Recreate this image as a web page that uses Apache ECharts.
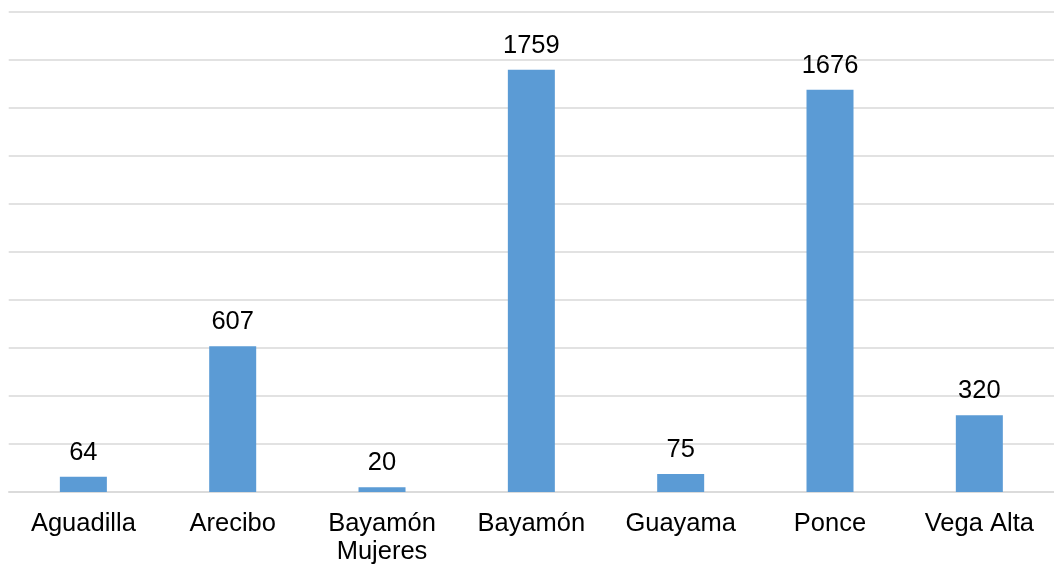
<!DOCTYPE html>
<html><head><meta charset="utf-8">
<script src="https://cdn.jsdelivr.net/npm/echarts@6/dist/echarts.min.js"></script>
<style>html,body{margin:0;padding:0;background:#fff}#c{width:1054px;height:569px}</style>
</head><body><div id="c"></div>
<script>
const categories = ['Aguadilla','Arecibo','Bayamón\nMujeres','Bayamón','Guayama','Ponce','Vega Alta'];
const values = [64, 607, 20, 1759, 75, 1676, 320];
const yMin = 0, yMax = 2000, yInterval = 200;

const chart = echarts.init(document.getElementById('c'));
chart.setOption({
  animation: false,
  grid: {left: 8.7, top: 12, width: 1047.6, bottom: 77, containLabel: false},
  xAxis: {
    type: 'category', data: categories,
    axisLine: {lineStyle: {color: '#d9d9d9', width: 1.5}},
    axisTick: {show: false},
    axisLabel: {color: '#000', fontFamily: '"Liberation Sans", Arial, sans-serif', fontSize: 25.5, margin: 18, lineHeight: 28, interval: 0}
  },
  yAxis: {
    type: 'value', min: yMin, max: yMax, interval: yInterval,
    axisLabel: {show: false}, axisLine: {show: false}, axisTick: {show: false},
    splitLine: {lineStyle: {color: '#d9d9d9', width: 1.5}}
  },
  series: [{
    type: 'bar', data: values, barWidth: 47,
    itemStyle: {color: '#5b9bd5'},
    label: {show: true, position: 'top', distance: 11, color: '#000', fontFamily: '"Liberation Sans", Arial, sans-serif', fontSize: 25.5}
  }]
});
</script></body></html>
